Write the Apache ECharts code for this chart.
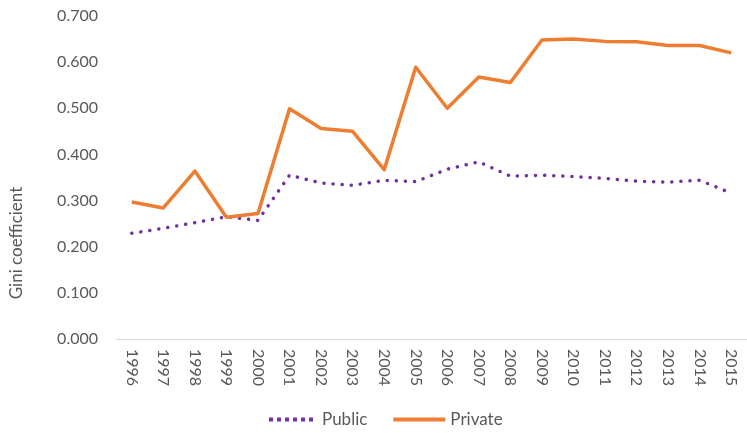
<!DOCTYPE html>
<html>
<head>
<meta charset="utf-8">
<script src="https://cdn.jsdelivr.net/npm/echarts@6/dist/echarts.min.js"></script>
<style>
  html, body { margin: 0; padding: 0; background: #fff; }
  #chart { width: 747px; height: 433px; }
</style>
</head>
<body>
<div id="chart"></div>
<script>
// years on the x axis
const years = ["1996", "1997", "1998", "1999", "2000", "2001", "2002", "2003", "2004", "2005",
  "2006", "2007", "2008", "2009", "2010", "2011", "2012", "2013", "2014", "2015"];
// Gini coefficient, public sector
const publicGini = [0.229, 0.240, 0.252, 0.265, 0.257, 0.355, 0.338, 0.333, 0.344, 0.341,
  0.368, 0.384, 0.353, 0.355, 0.352, 0.348, 0.342, 0.340, 0.344, 0.316];
// Gini coefficient, private sector
const privateGini = [0.297, 0.284, 0.364, 0.264, 0.272, 0.499, 0.456, 0.450, 0.367, 0.589,
  0.500, 0.568, 0.556, 0.648, 0.650, 0.645, 0.644, 0.636, 0.636, 0.620];

const chart = echarts.init(document.getElementById("chart"));
const font = "Lato, 'Open Sans', sans-serif";
const grey = "#595959";

chart.setOption({
  animation: false,
  textStyle: { fontFamily: font },
  grid: { left: 116, width: 638, top: 16, bottom: 94 },
  // y axis title, placed like the original (lower than the plot centre)
  graphic: [{
    type: "text",
    x: 17,
    y: 243,
    rotation: Math.PI / 2,
    style: {
      text: "Gini coefficient",
      fill: grey,
      fontSize: 17,
      fontFamily: font,
      align: "center",
      verticalAlign: "middle"
    }
  }],
  legend: {
    bottom: 0,
    left: 264,
    itemWidth: 52,
    itemHeight: 4,
    itemGap: 26,
    textStyle: { color: grey, fontSize: 17, fontFamily: font },
    data: [
      { name: "Public", icon: "path://M0,0 L4,0 L4,4 L0,4 Z M8,0 L12,0 L12,4 L8,4 Z M16,0 L20,0 L20,4 L16,4 Z M24,0 L28,0 L28,4 L24,4 Z M32,0 L36,0 L36,4 L32,4 Z M40,0 L44,0 L44,4 L40,4 Z" },
      { name: "Private", icon: "rect" }
    ]
  },
  xAxis: {
    type: "category",
    data: years,
    boundaryGap: true,
    axisLine: { lineStyle: { color: "#d9d9d9", width: 1 } },
    axisTick: { show: false },
    axisLabel: { rotate: -90, color: grey, fontSize: 16, margin: 10, fontFamily: font }
  },
  yAxis: {
    type: "value",
    min: 0,
    max: 0.7,
    interval: 0.1,
    axisLine: { show: false },
    axisTick: { show: false },
    splitLine: { show: false },
    axisLabel: {
      color: grey, fontSize: 16, margin: 18, fontFamily: font,
      formatter: v => v.toFixed(3)
    }
  },
  series: [
    {
      name: "Public",
      type: "line",
      data: publicGini,
      symbol: "none",
      color: "#7030a0",
      lineStyle: { color: "#7030a0", width: 3.5, type: [0.1, 9], cap: "round" }
    },
    {
      name: "Private",
      type: "line",
      data: privateGini,
      symbol: "none",
      color: "#ed7d31",
      lineStyle: { color: "#ed7d31", width: 3.5, join: "round" }
    }
  ]
});
</script>
</body>
</html>
